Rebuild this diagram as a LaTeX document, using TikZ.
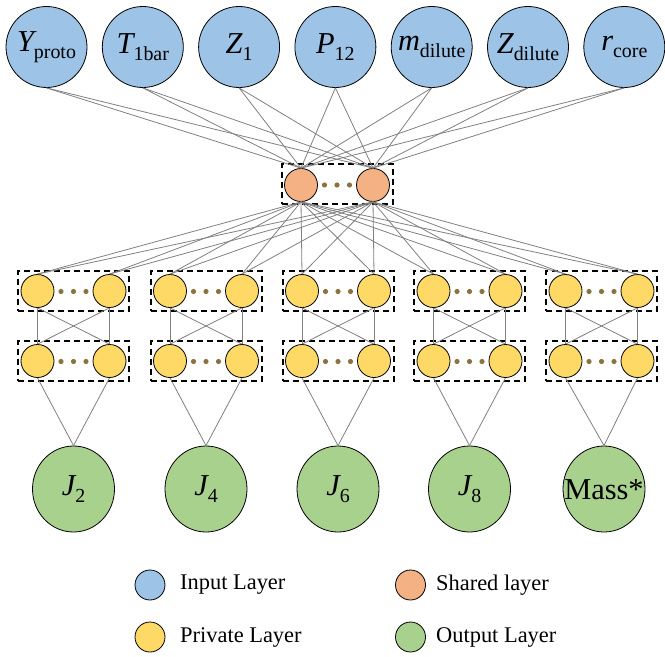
\documentclass[tikz,border=0pt]{standalone}
\usepackage{fontspec}
\setmainfont{Liberation Serif}
\usetikzlibrary{shapes.geometric}
\definecolor{inblue}{HTML}{9DC3E6}
\definecolor{shorange}{HTML}{F4B183}
\definecolor{pryellow}{HTML}{FFD966}
\definecolor{outgreen}{HTML}{A9D18E}
\definecolor{dotbrown}{HTML}{8B7240}
\newcommand{\sublbl}[2]{{\fontsize{30.5}{30}\selectfont\itshape #1}\raisebox{-6.5pt}{\fontsize{20}{20}\selectfont #2}}
\begin{document}
\begin{tikzpicture}[x=1bp,y=-1bp,
  inputnode/.style={circle,draw=black,line width=0.8bp,fill=inblue,minimum size=81bp,inner sep=0pt},
  sharednode/.style={circle,draw=black,line width=0.8bp,fill=shorange,minimum size=33bp,inner sep=0pt},
  privnode/.style={circle,draw=black,line width=0.8bp,fill=pryellow,minimum size=33bp,inner sep=0pt},
  outnode/.style={ellipse,draw=black,line width=0.8bp,fill=outgreen,minimum width=82bp,minimum height=86bp,inner sep=0pt},
  legnode/.style={circle,draw=black,line width=0.8bp,minimum size=30bp,inner sep=0pt},
  legtext/.style={anchor=west,inner sep=0pt,font=\fontsize{22.5}{23}\selectfont},
  layerbox/.style={draw=black,line width=2bp,dash pattern=on 6bp off 4bp,minimum width=111bp,minimum height=40bp,inner sep=0pt},
  edge/.style={draw=black!50,line width=0.8bp},
  dotmark/.style={circle,fill=dotbrown,minimum size=5.2bp,inner sep=0pt}
]
\useasboundingbox (0,0) rectangle (665,657);

% input layer
\node[inputnode] (i1) at (46.5,47) {\sublbl{Y}{proto}};
\node[inputnode] (i2) at (142.8,47) {\sublbl{T}{1bar}};
\node[inputnode] (i3) at (239.1,47) {\sublbl{Z}{1}};
\node[inputnode] (i4) at (335.4,47) {\sublbl{P}{12}};
\node[inputnode] (i5) at (431.7,47) {\sublbl{m}{dilute}};
\node[inputnode] (i6) at (528,47) {\sublbl{Z}{dilute}};
\node[inputnode] (i7) at (624.3,47) {\sublbl{r}{core}};

% shared layer
\node[layerbox] (sbox) at (337.5,184) {};
\node[sharednode] (s1) at (301,185) {};
\node[sharednode] (s2) at (373,185) {};
\node[dotmark] (sd1) at (324.5,185) {};
\node[dotmark] (sd2) at (337,185) {};
\node[dotmark] (sd3) at (349.5,185) {};

% private groups
\foreach \g/\gx in {1/73.5,2/206,3/338,4/469.5,5/601.5}{
  \node[layerbox] (ba\g) at (\gx,291) {};
  \node[layerbox] (bb\g) at (\gx,361) {};
  \node[privnode] (pa\g l) at (\gx-36,291) {};
  \node[privnode] (pa\g r) at (\gx+36,291) {};
  \node[privnode] (pb\g l) at (\gx-36,361) {};
  \node[privnode] (pb\g r) at (\gx+36,361) {};
  \foreach \d/\dx in {1/-12.5,2/0,3/12.5}{
    \node[dotmark] (da\g\d) at (\gx+\dx,291.5) {};
    \node[dotmark] (db\g\d) at (\gx+\dx,361.5) {};
  }
}

% output layer
\node[outnode] (o1) at (73.5,489) {\sublbl{J}{2}};
\node[outnode] (o2) at (206,489) {\sublbl{J}{4}};
\node[outnode] (o3) at (338,489) {\sublbl{J}{6}};
\node[outnode] (o4) at (469.5,489) {\sublbl{J}{8}};
\node[outnode] (o5) at (604,489) {};
\node[inner sep=0pt,font=\fontsize{30.5}{30}\selectfont] (o5lbl) at (604,490) {Mass*};

% edges input -> shared
\foreach \i in {1,...,7}{
  \foreach \s in {1,2}{
    \draw[edge] (i\i.south) -- (s\s.north);
  }
}
% shared -> private layer 1
\foreach \s in {1,2}{
  \foreach \g in {1,...,5}{
    \draw[edge] (s\s.south) -- (pa\g l.north);
    \draw[edge] (s\s.south) -- (pa\g r.north);
  }
}
% private layer 1 -> 2, and 2 -> output
\foreach \g in {1,...,5}{
  \draw[edge] (pa\g l.south) -- (pb\g l.north);
  \draw[edge] (pa\g l.south) -- (pb\g r.north);
  \draw[edge] (pa\g r.south) -- (pb\g l.north);
  \draw[edge] (pa\g r.south) -- (pb\g r.north);
  \draw[edge] (pb\g l.south) -- (o\g.north);
  \draw[edge] (pb\g r.south) -- (o\g.north);
}

% legend
\node[legnode,fill=inblue] (l1) at (150,585) {};
\node[legtext] (t1) at (180,585) {Input Layer};
\node[legnode,fill=shorange] (l2) at (410.5,585) {};
\node[legtext] (t2) at (436,585) {Shared layer};
\node[legnode,fill=pryellow] (l3) at (150,637) {};
\node[legtext] (t3) at (180,637) {Private Layer};
\node[legnode,fill=outgreen] (l4) at (410.5,637) {};
\node[legtext] (t4) at (436,637) {Output Layer};
\end{tikzpicture}
\end{document}
